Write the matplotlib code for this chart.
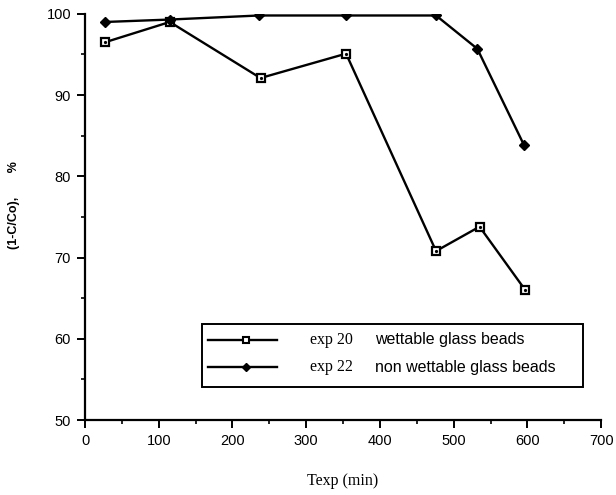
import numpy as np
import matplotlib
matplotlib.use("Agg")
from matplotlib import pyplot as plt
from matplotlib.lines import Line2D
from matplotlib.patches import Rectangle
from matplotlib.ticker import MultipleLocator

# exp 20 - wettable glass beads
t_exp20 = [27, 115, 238, 354, 476, 535, 597]
y_exp20 = [96.5, 99.0, 92.1, 95.1, 70.8, 73.8, 66.0]

# exp 22 - non wettable glass beads
t_exp22 = [27, 115, 236, 354, 476, 532, 595]
y_exp22 = [99.0, 99.3, 99.8, 99.8, 99.8, 95.7, 83.9]

legend_ids = ["exp 20", "exp 22"]
legend_desc = ["wettable glass beads", "non wettable glass beads"]

sans = ["Liberation Sans", "DejaVu Sans"]
serif = ["Liberation Serif", "DejaVu Serif"]

fig = plt.figure(figsize=(6.16, 4.95), dpi=100)
ax = fig.add_axes([0.138, 0.1515, 0.838, 0.8205])

lw = 1.7
ax.plot(t_exp20, y_exp20, color="black", lw=lw, marker="s", ms=5.5,
        mfc="white", mec="black", mew=1.6, zorder=3)
ax.plot(t_exp20, y_exp20, ls="none", marker="o", ms=1.3, color="black", zorder=4)
ax.plot(t_exp22, y_exp22, color="black", lw=lw, marker="D", ms=5,
        mfc="black", mec="black", zorder=5)

ax.set_xlim(0, 700)
ax.set_ylim(50, 100)
ax.xaxis.set_major_locator(MultipleLocator(100))
ax.xaxis.set_minor_locator(MultipleLocator(50))
ax.yaxis.set_major_locator(MultipleLocator(10))
ax.yaxis.set_minor_locator(MultipleLocator(5))

for s in ["top", "right"]:
    ax.spines[s].set_visible(False)
for s in ["left", "bottom"]:
    ax.spines[s].set_linewidth(1.6)

ax.tick_params(which="major", direction="out", length=6, width=1.4,
               labelsize=10.5, pad=4)
ax.tick_params(which="minor", direction="out", length=3, width=1.2)
for lab in ax.get_xticklabels() + ax.get_yticklabels():
    lab.set_family(sans)

ax.set_xlabel("Texp (min)", family=serif, fontsize=11.5, labelpad=18)
fig.text(0.022, 0.585, "(1-C/Co),       %", rotation=90, family=sans,
         fontsize=9, fontweight="bold", ha="center", va="center")

# legend box drawn by hand (two fonts on one row)
box = Rectangle((0.227, 0.081), 0.738, 0.155, transform=ax.transAxes,
                fill=False, ec="black", lw=1.4, zorder=6)
ax.add_patch(box)
rows_y = [0.197, 0.130]
styles = [dict(marker="s", ms=5, mfc="white", mec="black", mew=1.5),
          dict(marker="D", ms=4.5, mfc="black", mec="black")]
for yy, st, ident, desc in zip(rows_y, styles, legend_ids, legend_desc):
    ax.add_line(Line2D([0.238, 0.372], [yy, yy], transform=ax.transAxes,
                       color="black", lw=lw, zorder=7))
    ax.add_line(Line2D([0.312], [yy], transform=ax.transAxes, color="black",
                       zorder=8, **st))
    ax.text(0.436, yy, ident, transform=ax.transAxes, family=serif,
            fontsize=11.5, va="center", ha="left")
    ax.text(0.562, yy, desc, transform=ax.transAxes, family=sans,
            fontsize=11.5, va="center", ha="left")

fig.savefig("out.png", dpi=100)
